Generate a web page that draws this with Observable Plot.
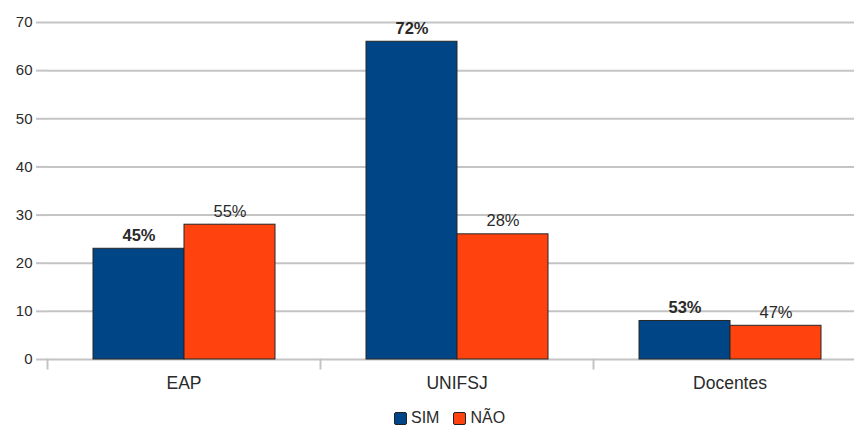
<!DOCTYPE html>
<html>
<head>
<meta charset="utf-8">
<script src="https://cdn.jsdelivr.net/npm/d3@7"></script>
<script src="https://cdn.jsdelivr.net/npm/@observablehq/plot@0.6"></script>
<style>
  html, body { margin: 0; padding: 0; background: white; overflow: hidden; width: 854px; height: 427px; }
  #chart { position: relative; width: 854px; height: 427px; }
  .legend { position: absolute; top: 409px; left: 394px; display: flex; align-items: center;
    font-family: "Liberation Sans", Arial, sans-serif; font-size: 16px; color: #2a2a2a; }
  .legend .item { display: flex; align-items: center; margin-right: 14px; }
  .legend .sw { width: 11px; height: 11px; border: 1px solid #222; border-radius: 2px; margin-right: 4px; }
</style>
</head>
<body>
<div id="chart"></div>
<script>
const categories = ["EAP", "UNIFSJ", "Docentes"];
const series = ["SIM", "NÃO"];
const simValues = [23, 66, 8];
const naoValues = [28, 26, 7];
const simLabels = ["45%", "72%", "53%"];
const naoLabels = ["55%", "28%", "47%"];
const yTicks = [0, 10, 20, 30, 40, 50, 60, 70];
const seriesColors = ["#004586", "#ff420e"];

const data = categories.flatMap((c, i) => [
  {category: c, series: series[0], value: simValues[i], label: simLabels[i]},
  {category: c, series: series[1], value: naoValues[i], label: naoLabels[i]}
]);

const W = 854, H = 400, mTop = 22, mBottom = 41, mLeft = 46, mRight = -12;
const innerH = H - mTop - mBottom;
const grid = "#c4c4c4";
const ink = "#2a2a2a";

const chart = Plot.plot({
  width: W, height: H,
  marginLeft: mLeft, marginRight: mRight, marginTop: mTop, marginBottom: mBottom,
  style: {fontFamily: "'Liberation Sans', Arial, sans-serif", color: ink, background: "white", overflow: "hidden"},
  fx: {domain: categories, padding: 0, label: null},
  x: {domain: series, paddingInner: 0, paddingOuter: 0.5, axis: null},
  y: {domain: [0, 70], label: null},
  color: {domain: series, range: seriesColors},
  marks: [
    Plot.ruleY(yTicks, {stroke: grid, strokeWidth: 2}),
    Plot.frame({anchor: "left", stroke: grid, strokeWidth: 2, insetTop: innerH, insetBottom: -9}),
    Plot.axisY({ticks: yTicks, tickSize: 11, tickPadding: 4, stroke: grid, strokeWidth: 2, line: true, fontSize: 15, label: null, fill: ink}),
    Plot.axisFx({anchor: "bottom", tickSize: 0, tickPadding: 17, fontSize: 17.5, label: null, fill: ink}),
    Plot.barY(data, {fx: "category", x: "series", y: "value", fill: "series", stroke: "#262626", strokeWidth: 1}),
    Plot.text(data.filter(d => d.series === series[0]), {fx: "category", x: "series", y: "value", text: "label",
      lineAnchor: "bottom", dy: -8, fontSize: 16.5, fontWeight: "bold", fill: ink}),
    Plot.text(data.filter(d => d.series === series[1]), {fx: "category", x: "series", y: "value", text: "label",
      lineAnchor: "bottom", dy: -8, fontSize: 16.5, fill: ink})
  ]
});

const root = document.getElementById("chart");
root.appendChild(chart);
const legend = document.createElement("div");
legend.className = "legend";
series.forEach((s, i) => {
  const item = document.createElement("div");
  item.className = "item";
  const sw = document.createElement("span");
  sw.className = "sw";
  sw.style.background = seriesColors[i];
  const t = document.createElement("span");
  t.textContent = s;
  item.appendChild(sw);
  item.appendChild(t);
  legend.appendChild(item);
});
root.appendChild(legend);
</script>
</body>
</html>
